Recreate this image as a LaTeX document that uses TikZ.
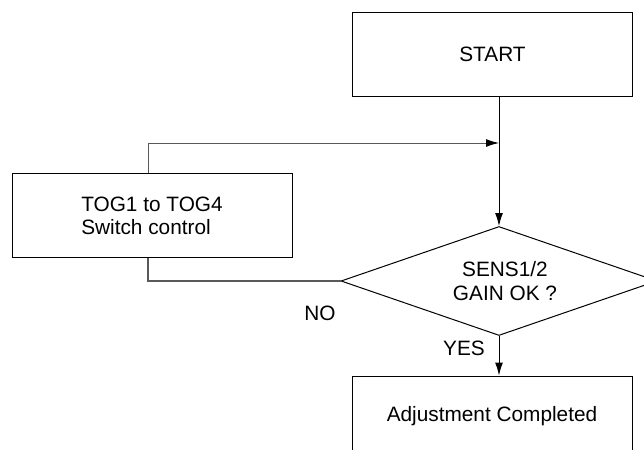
\documentclass[tikz,border=0pt]{standalone}
\usepackage{fontspec}
\setmainfont{Liberation Sans}
\usetikzlibrary{arrows.meta, positioning, shapes.geometric}

\begin{document}
\begin{tikzpicture}[x=0.5pt, y=-0.5pt,
    box/.style={draw, line width=0.5pt, minimum width=140pt, minimum height=42pt,
      align=center, font=\fontsize{10.4}{11.5}\selectfont},
    decision/.style={diamond, draw, line width=0.5pt, aspect=2.9, inner sep=0pt,
      minimum width=158pt, minimum height=54.5pt, align=center,
      font=\fontsize{10.4}{12}\selectfont},
    flow/.style={line width=0.5pt, -{Latex[length=6.5pt,width=4pt,color=black]}},
    back/.style={draw=black!65, line width=0.6pt},
    lbl/.style={font=\fontsize{10.4}{12}\selectfont}]
  \useasboundingbox (0,0) rectangle (644,450);
  \clip (0,0) rectangle (644,450);

  \node[box] (start) at (492.5,54) {START};
  \node[box, align=left] (switch) at (152,215.5) {TOG1 to TOG4\\Switch control};
  \node[decision] (gain) at (499,281) {\hspace*{6pt}SENS1/2\\\hspace*{6pt}GAIN OK ?};
  \node[box, minimum height=40pt] (done) at (492,416) {Adjustment Completed};
  \coordinate (join) at (499,143);

  % main path
  \draw[flow] (start.south -| gain.north) -- (gain.north);
  \draw[flow] (gain.south) -- (gain.south |- done.north);
  \node[lbl] (yes) at (464,348) {YES};

  % retry loop
  \draw[back] (gain.west) -| ([xshift=-2pt]switch.south);
  \draw[back, flow] ([xshift=-2pt]switch.north) |- (join);
  \node[lbl] (no) at (320,313) {NO};
\end{tikzpicture}
\end{document}
